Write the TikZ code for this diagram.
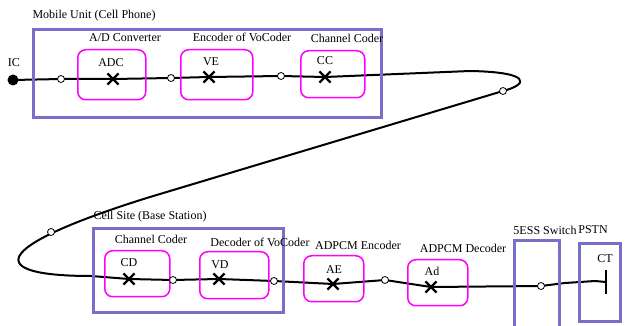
\documentclass[tikz,border=0pt]{standalone}
\usepackage{fontspec}
\setmainfont{Liberation Serif}
\usetikzlibrary{shapes.misc, backgrounds}

\definecolor{sitecol}{RGB}{120,112,200}
\definecolor{codercol}{RGB}{255,0,255}

\begin{document}
\begin{tikzpicture}[
  x=1pt, y=-1pt,
  font=\fontsize{12}{14}\selectfont,
  site/.style={draw=sitecol, line width=3pt, inner sep=0, anchor=north west},
  coder/.style={draw=codercol, line width=1.5pt, rounded corners=8pt, inner sep=0, anchor=north west},
  txt/.style={inner sep=0},
  xmark/.style={cross out, draw, line width=2.2pt, minimum size=9pt, inner sep=0},
  tap/.style={circle, draw, fill=white, line width=0.8pt, minimum size=7pt, inner sep=0},
  wire/.style={line width=2pt, line join=round}
]
\clip (0,0) rectangle (625,326);

% mobile unit
\node[site, minimum width=348pt, minimum height=88pt] (mobile) at (32,28) {};
\node[txt] at (94,16) {Mobile Unit (Cell Phone)};
\node[coder, minimum width=68pt, minimum height=50pt] (adcbox) at (77,49) {};
\node[coder, minimum width=72pt, minimum height=50pt] (vebox) at (180,49) {};
\node[coder, minimum width=64pt, minimum height=47pt] (ccbox) at (300,50) {};
\node[txt] at (125,38) {A/D Converter};
\node[txt] at (242,37) {Encoder of VoCoder};
\node[txt] at (347,38) {Channel Coder};
\node[txt] at (111,63) {ADC};
\node[txt] at (211,62) {VE};
\node[txt] at (325,61) {CC};

% cell site and network side
\node[site, minimum width=190pt, minimum height=84pt] (cellsite) at (92,227) {};
\node[txt] at (150,217) {Cell Site (Base Station)};
\node[coder, minimum width=65pt, minimum height=46pt] (cdbox) at (104,250) {};
\node[coder, minimum width=69pt, minimum height=47pt] (vdbox) at (199,251) {};
\node[coder, minimum width=60pt, minimum height=46pt] (aebox) at (303,255) {};
\node[coder, minimum width=60pt, minimum height=46pt] (adbox) at (407,259) {};
\node[site, minimum width=45pt, minimum height=100pt] (switch) at (513,239) {};
\node[site, minimum width=41pt, minimum height=78pt] (pstn) at (578,242) {};
\node[txt] at (151,239) {Channel Coder};
\node[txt] at (260,242) {Decoder of VoCoder};
\node[txt] at (358,245) {ADPCM Encoder};
\node[txt] at (463,248) {ADPCM Decoder};
\node[txt] at (545,230) {5ESS Switch};
\node[txt] at (593,230) {PSTN};
\node[txt] at (129,263) {CD};
\node[txt] at (220,265) {VD};
\node[txt] at (334,270) {AE};
\node[txt] at (432,271) {Ad};
\node[txt] at (605,259) {CT};

% points on the call path
\node[circle, fill=black, minimum size=11pt, inner sep=0] (ic) at (13,80) {};
\node[txt] at (14,63) {IC};
\node[tap] (t1) at (61,79) {};
\node[xmark] (adcx) at (113,79) {};
\node[tap] (t2) at (171,78) {};
\node[xmark] (vex) at (209,77) {};
\node[tap] (t3) at (281,76) {};
\node[xmark] (ccx) at (325,77) {};
\coordinate (r1) at (470,71);
\node[tap] (t4) at (503,91) {};
\coordinate (l1) at (150,197);
\node[tap] (t5) at (51,232) {};
\coordinate (l2) at (91,276);
\node[xmark] (cdx) at (129,279) {};
\node[tap] (t6) at (173,280) {};
\node[xmark] (vdx) at (219,279) {};
\node[tap] (t7) at (274,281) {};
\node[xmark] (aex) at (333,284) {};
\node[tap] (t8) at (385,280) {};
\node[xmark] (adx) at (431,287) {};
\node[tap] (t9) at (541,286) {};
\coordinate (s1) at (565,283);
\coordinate (s2) at (595,281);
\node[rectangle, fill=black, minimum width=2.2pt, minimum height=24pt, inner sep=0] (ctbar) at (606,282) {};

\begin{scope}[on background layer]
\draw[wire] (ic.center) -- (t1.center) -- (adcx.center) -- (t2.center) -- (vex.center)
  -- (t3.center) -- (ccx.center) -- (r1) .. controls (530,72) and (530,84) .. (t4.center)
  -- (l1) .. controls (-14,248) and (-14,276) .. (l2) -- (cdx.center) -- (t6.center)
  -- (vdx.center) -- (t7.center) -- (aex.center) -- (t8.center) -- (adx.center)
  -- (t9.center) -- (s1) -- (s2) -- (ctbar.center);
\end{scope}
\end{tikzpicture}
\end{document}
